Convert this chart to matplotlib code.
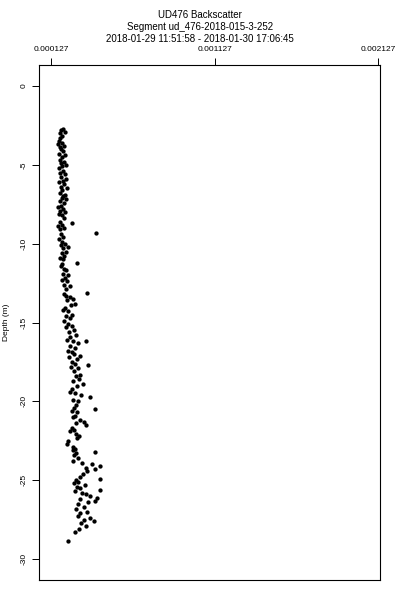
import numpy as np
import matplotlib
matplotlib.use("Agg")
import matplotlib.pyplot as plt

plt.rcParams['font.family'] = ['Liberation Sans', 'DejaVu Sans']

title_lines = ["UD476 Backscatter",
               "Segment ud_476-2018-015-3-252",
               "2018-01-29 11:51:58 - 2018-01-30 17:06:45"]
x_ticks = [0.000127, 0.001127, 0.002127]
x_ticklabels = ["0.000127", "0.001127", "0.002127"]
y_ticks = [0, -5, -10, -15, -20, -25, -30]

depth = [-2.7, -2.8, -2.9, -3.0, -3.2, -3.3, -3.5, -3.6, -3.7, -3.8, -3.9, -4.0, -4.1, -4.3, -4.4, -4.5, -4.7, -4.8, -4.9, -5.0,
         -5.1, -5.2, -5.4, -5.5, -5.6, -5.8, -5.9, -6.0, -6.1, -6.2, -6.4, -6.5, -6.6, -6.8, -6.9, -7.0,
         -7.1, -7.2, -7.3, -7.4, -7.6, -7.7, -7.8, -7.9, -8.0, -8.1, -8.2, -8.4, -8.6, -8.7, -8.8, -8.9, -9.0,
         -9.1, -9.3, -9.4, -9.6, -9.7, -9.9, -10.0, -10.1, -10.2, -10.3, -10.5, -10.6, -10.8, -10.9, -11.0,
         -11.2, -11.3, -11.4, -11.6, -11.7, -11.9, -12.0, -12.2, -12.3, -12.4, -12.6, -12.7, -12.9,
         -13.1, -13.2, -13.3, -13.4, -13.5, -13.6, -13.8, -13.9, -14.1, -14.2, -14.3, -14.5, -14.6, -14.7, -14.9,
         -15.1, -15.2, -15.3, -15.5, -15.6, -15.8, -15.9, -16.1, -16.2, -16.2, -16.3, -16.5, -16.6, -16.8, -16.9,
         -17.0, -17.1, -17.2, -17.3, -17.5, -17.6, -17.7, -17.8, -17.9, -18.1, -18.3, -18.4, -18.6, -18.7, -18.9,
         -19.0, -19.2, -19.4, -19.5, -19.6, -19.7, -19.9, -20.0, -20.2, -20.4, -20.5, -20.6, -20.7, -20.9, -21.0,
         -21.2, -21.3, -21.4, -21.5, -21.7, -21.8, -21.9, -22.1, -22.2, -22.3, -22.5, -22.7, -22.9,
         -23.0, -23.1, -23.2, -23.3, -23.4, -23.6, -23.8, -23.9, -24.0, -24.1, -24.2, -24.3, -24.4, -24.6, -24.8, -24.9, -25.0,
         -25.1, -25.2, -25.3, -25.4, -25.5, -25.6, -25.7, -25.8,
         -25.9, -26.0, -26.1, -26.2, -26.3, -26.4, -26.5, -26.7, -26.8, -27.0, -27.1, -27.3, -27.4, -27.5, -27.6, -27.7, -27.9, -28.1, -28.3, -28.85]

backscatter = [2.00e-4, 1.88e-4, 2.13e-4, 1.82e-4, 1.94e-4, 1.82e-4, 1.76e-4, 1.94e-4, 1.70e-4, 2.07e-4, 1.82e-4, 1.88e-4, 2.00e-4, 1.76e-4, 2.13e-4, 1.94e-4, 1.82e-4, 2.07e-4, 1.88e-4, 2.19e-4,
               1.94e-4, 1.76e-4, 2.00e-4, 1.82e-4, 2.13e-4, 1.88e-4, 2.19e-4, 2.00e-4, 1.76e-4, 2.07e-4, 1.88e-4, 2.25e-4, 1.94e-4, 1.82e-4, 2.13e-4, 2.00e-4,
               1.94e-4, 2.19e-4, 1.82e-4, 2.07e-4, 1.88e-4, 1.70e-4, 2.00e-4, 1.82e-4, 2.13e-4, 1.76e-4, 1.94e-4, 2.07e-4, 1.82e-4, 2.55e-4, 1.94e-4, 1.70e-4, 2.07e-4,
               1.82e-4, 4.02e-4, 1.88e-4, 2.00e-4, 1.76e-4, 1.94e-4, 2.13e-4, 1.88e-4, 2.31e-4, 2.00e-4, 2.19e-4, 1.94e-4, 2.07e-4, 1.82e-4, 2.00e-4,
               2.86e-4, 1.94e-4, 1.88e-4, 2.07e-4, 2.19e-4, 2.00e-4, 2.31e-4, 2.13e-4, 1.94e-4, 2.25e-4, 2.07e-4, 2.43e-4, 2.19e-4,
               3.47e-4, 2.07e-4, 2.19e-4, 2.43e-4, 2.62e-4, 2.25e-4, 2.74e-4, 2.49e-4, 2.13e-4, 2.00e-4, 2.31e-4, 2.55e-4, 2.19e-4, 2.43e-4, 2.07e-4,
               2.31e-4, 2.55e-4, 2.19e-4, 2.68e-4, 2.37e-4, 2.80e-4, 2.43e-4, 2.25e-4, 2.62e-4, 3.41e-4, 2.92e-4, 2.43e-4, 2.74e-4, 2.31e-4, 2.55e-4,
               2.68e-4, 3.04e-4, 2.37e-4, 2.86e-4, 2.55e-4, 2.74e-4, 3.53e-4, 2.49e-4, 2.92e-4, 2.68e-4, 3.04e-4, 2.80e-4, 2.98e-4, 2.62e-4, 3.23e-4,
               2.86e-4, 2.55e-4, 2.43e-4, 2.74e-4, 3.10e-4, 3.66e-4, 2.62e-4, 2.92e-4, 2.80e-4, 2.68e-4, 3.96e-4, 2.55e-4, 2.86e-4, 2.74e-4, 2.62e-4,
               3.04e-4, 3.29e-4, 2.80e-4, 3.41e-4, 2.55e-4, 2.68e-4, 2.43e-4, 2.80e-4, 2.98e-4, 2.86e-4, 2.31e-4, 2.25e-4, 2.62e-4,
               2.74e-4, 2.62e-4, 3.96e-4, 2.80e-4, 2.68e-4, 2.92e-4, 2.62e-4, 3.17e-4, 3.78e-4, 4.27e-4, 3.41e-4, 3.96e-4, 3.47e-4, 3.23e-4, 3.04e-4, 4.27e-4, 2.80e-4,
               2.92e-4, 2.68e-4, 3.35e-4, 2.86e-4, 3.04e-4, 4.27e-4, 2.74e-4, 3.17e-4,
               3.41e-4, 3.66e-4, 4.08e-4, 3.04e-4, 3.96e-4, 3.53e-4, 2.92e-4, 3.29e-4, 2.80e-4, 3.47e-4, 3.04e-4, 2.92e-4, 3.66e-4, 3.29e-4, 3.90e-4, 3.10e-4, 3.41e-4, 2.98e-4, 2.74e-4, 2.31e-4]

fig = plt.figure(figsize=(4, 6), dpi=100)
ax = fig.add_axes([0.0975, 0.0333, 0.8525, 0.8584])
ax.plot(backscatter, depth, 'o', color='black', markersize=3.1, markeredgewidth=0)

ax.set_xlim(0.536e-4, 21.39e-4)
ax.set_ylim(-31.33, 1.33)
ax.xaxis.tick_top()
ax.set_xticks(x_ticks)
ax.set_xticklabels(x_ticklabels, fontsize=6)
ax.set_yticks(y_ticks)
ax.set_yticklabels([str(v) for v in y_ticks], fontsize=6, rotation=90, va='center')
ax.tick_params(axis='both', length=5, width=0.7, pad=3.5, colors='black')
for s in ax.spines.values():
    s.set_linewidth(0.8)
ax.set_ylabel("Depth (m)", fontsize=6, labelpad=7)

fig.text(0.5, 1 - 15 / 600, title_lines[0], ha='center', va='center', fontsize=7)
fig.text(0.5, 1 - 27 / 600, title_lines[1], ha='center', va='center', fontsize=7)
fig.text(0.5, 1 - 39 / 600, title_lines[2], ha='center', va='center', fontsize=7)

fig.savefig("out.png", dpi=100)
